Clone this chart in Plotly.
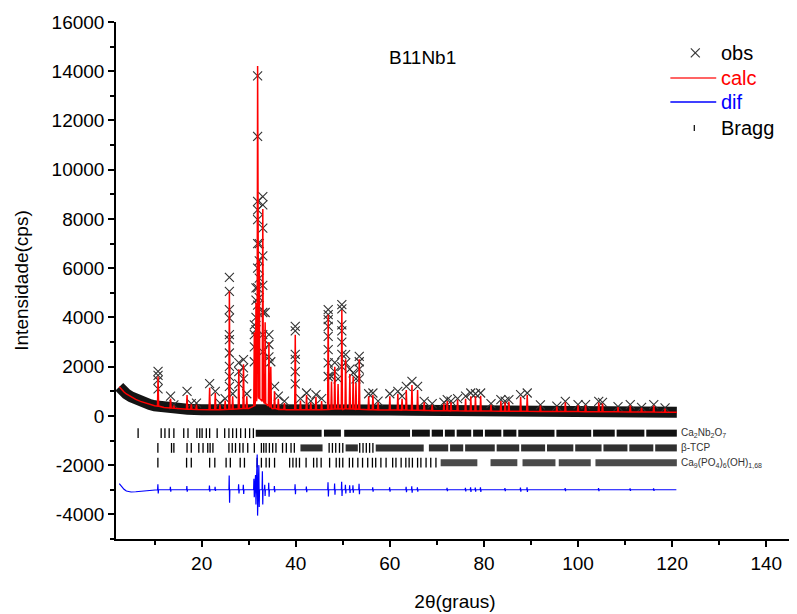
import plotly.graph_objects as go

# ---------------- data ----------------
# smooth background of the calculated profile (2theta, counts)
bg_2theta = [2.5, 3, 3.5, 4, 5, 6, 7, 8, 9, 10, 12, 14, 17, 20, 25, 28, 30, 33, 35, 38, 45, 50, 55, 60, 65, 70, 80, 90, 100, 110, 121]
bg_counts = [1180, 1060, 970, 890, 770, 670, 590, 520, 460, 410, 340, 300, 270, 255, 255, 270, 300, 340, 290, 250, 245, 260, 245, 235, 225, 210, 195, 185, 175, 165, 150]

# reflections of the profile: position, observed top, calculated top, base level
peak_2theta = [10.74, 13.4, 14.1, 16.9, 17.8, 18.9, 21.7, 22.9, 23.9, 25.0, 25.9, 26.6, 27.9, 28.9, 29.6,
               31.2, 31.55, 31.9, 32.25, 33.0, 33.5, 34.3, 34.7, 35.5, 36.3, 37.6, 39.9, 41.0, 42.3, 43.2,
               44.3, 45.5, 46.9, 47.6, 48.3, 49.0, 49.8, 50.6, 51.5, 52.2, 52.8, 53.5, 55.5, 56.4, 57.5,
               60.0, 61.7, 62.6, 63.5, 64.7, 65.9, 67.3, 69.0, 71.5, 72.2, 73.0, 74.4, 76.1, 77.2, 78.2,
               79.3, 81.5, 83.6, 84.5, 85.3, 87.8, 89.2, 92.0, 95.5, 97.3, 100.0, 101.6, 104.4, 105.2, 108.5,
               111.1, 113.5, 116.1, 118.5]
peak_obs = [1810, 800, 450, 1000, 500, 520, 1310, 1000, 520, 700, 5625, 900, 2160, 2285, 900,
            3700, 5200, 13811, 7000, 8910, 4200, 3300, 2200, 1200, 800, 600, 3640, 700, 930, 600,
            860, 700, 4315, 1600, 2160, 1500, 4517, 2490, 1900, 1750, 1500, 2420, 900, 930, 600,
            900, 1000, 800, 1200, 1405, 1200, 590, 500, 550, 660, 600, 700, 800, 930, 900,
            930, 500, 660, 600, 660, 860, 930, 450, 400, 590, 455, 455, 590, 550, 380,
            455, 350, 455, 330]
peak_calc = [1600, 700, 420, 850, 470, 460, 1140, 930, 460, 620, 5060, 800, 1890, 2100, 800,
             3400, 4600, 14217, 6300, 8400, 3800, 3000, 2000, 1000, 700, 520, 3300, 620, 850, 550,
             780, 600, 4110, 1400, 2000, 1300, 4300, 2300, 1700, 1600, 1350, 2300, 800, 850, 550,
             800, 900, 700, 1050, 1250, 1050, 550, 450, 500, 600, 550, 650, 700, 800, 800,
             820, 450, 600, 550, 580, 780, 850, 420, 380, 550, 430, 430, 540, 500, 360,
             420, 330, 420, 300]
peak_base = [400, 320, 310, 275, 270, 260, 255, 255, 255, 260, 270, 270, 290, 300, 300,
             400, 600, 800, 700, 600, 500, 400, 350, 300, 270, 260, 250, 250, 250, 250,
             250, 250, 260, 270, 280, 280, 290, 290, 280, 280, 270, 270, 250, 250, 245,
             240, 240, 235, 235, 230, 230, 225, 215, 210, 210, 205, 205, 200, 200, 200,
             195, 195, 190, 190, 190, 188, 185, 183, 180, 178, 175, 173, 170, 170, 167,
             163, 160, 157, 153]

# extra observed points read along the flanks of the strong peaks
obs_flank_2theta = [10.74, 10.74, 10.74,
                    25.9, 25.9, 25.9, 25.9, 25.9, 25.9, 25.9, 25.9, 25.9,
                    27.9, 27.9, 28.9, 28.9,
                    31.2, 31.2, 31.2,
                    31.55, 31.55, 31.55,
                    31.9, 31.9, 31.9, 31.9, 31.9, 31.9, 31.9, 31.9,
                    32.25, 32.25, 32.25,
                    33.0, 33.0, 33.0, 33.0, 33.0, 33.0, 33.0,
                    34.3, 34.3,
                    39.9, 39.9, 39.9, 39.9, 39.9,
                    46.9, 46.9, 46.9, 46.9, 46.9, 46.9, 46.9,
                    48.3,
                    49.8, 49.8, 49.8, 49.8, 49.8, 49.8,
                    50.6,
                    53.5, 53.5, 53.5]
obs_flank_counts = [1650, 1450, 1100,
                    5057, 4313, 3975, 3299, 3096, 2555, 2010, 1610, 1200,
                    1800, 1300, 1950, 1500,
                    3300, 2800, 2200,
                    4700, 4000, 3500,
                    11350, 8710, 8370, 7970, 7000, 6000, 5200, 4500,
                    6300, 5600, 4800,
                    8570, 7630, 6500, 5300, 4200, 3300, 2600,
                    2900, 2400,
                    3450, 2500, 2300, 1800, 1300,
                    4110, 3910, 3640, 3230, 2690, 2150, 1600,
                    1800,
                    4350, 3700, 3450, 3000, 2500, 2000,
                    2150,
                    2200, 1900, 1500]

# difference curve (obs - calc, offset)
dif_start_2theta = [2.5, 3, 3.5, 4, 5, 6, 7, 8, 9, 10]
dif_start_counts = [-2750, -2880, -2980, -3050, -3090, -3080, -3060, -3040, -3020, -3010]
dif_level = -3000
dif_spike_2theta = [10.74, 13.4, 16.9, 21.7, 22.9, 25.9, 27.9, 28.9, 31.15, 31.5, 31.85, 32.2, 32.95,
                    33.45, 34.3, 35.5, 39.9, 42.3, 46.9, 48.3, 49.8, 50.6, 51.5, 52.2, 53.5, 56.4, 60.0,
                    63.5, 64.7, 65.9, 72.2, 76.1, 77.2, 78.2, 79.3, 84.5, 87.8, 89.2, 97.3, 104.4, 111.1, 116.1]
dif_spike_up = [-2780, -2880, -2850, -2830, -2880, -2420, -2780, -2800, -2550, -2400, -1570, -2000, -2250,
                -2800, -2720, -2850, -2780, -2870, -2700, -2750, -2680, -2800, -2820, -2820, -2760, -2900, -2900,
                -2880, -2860, -2900, -2920, -2920, -2900, -2910, -2900, -2930, -2910, -2900, -2930, -2930, -2940, -2940]
dif_spike_down = [-3150, -3080, -3080, -3080, -3050, -3530, -3150, -3170, -3300, -3600, -4050, -3700, -3600,
                  -3250, -3280, -3100, -3180, -3100, -3270, -3200, -3250, -3150, -3130, -3120, -3180, -3080, -3080,
                  -3100, -3120, -3080, -3060, -3070, -3090, -3080, -3090, -3060, -3080, -3090, -3060, -3060, -3050, -3050]
dif_end_2theta = 120.9

# Bragg reflection markers: isolated ticks and dense runs, per phase
bragg_rows = [-700, -1300, -1900]
bragg1_2theta = [6.5, 11.4, 12.2, 13.1, 14.1, 16.2, 17.1, 19.0, 19.6, 20.1, 21.0, 21.7, 23.3, 24.9, 25.8,
                 26.6, 27.4, 28.3, 29.3, 30.2, 31.0]
bragg1_run_from = [31.5, 46.0, 50.3, 64.7, 68.9, 71.7, 74.2, 77.7, 80.2, 84.1, 87.3, 95.4, 103.2, 108.2, 114.5]
bragg1_run_to = [45.5, 49.6, 64.3, 68.5, 71.3, 73.8, 77.3, 79.8, 83.7, 86.9, 95.0, 102.8, 107.8, 114.1, 121.0]
bragg2_2theta = [10.7, 13.6, 14.1, 16.9, 17.8, 19.4, 20.3, 21.3, 21.8, 22.4, 25.8, 26.5, 27.2, 28.1, 28.8,
                 29.8, 31.2, 32.7, 33.2, 33.7, 34.4, 35.1, 35.8, 37.2, 38.0, 39.0, 39.7, 47.1, 47.8, 48.5,
                 49.3, 50.0, 53.6, 54.3, 55.0, 55.7, 56.4]
bragg2_run_from = [41.0, 50.6, 57.0, 68.3, 72.8, 76.0, 82.7, 87.9, 93.4, 99.4, 105.4, 110.9, 116.4]
bragg2_run_to = [45.7, 53.2, 67.2, 72.4, 75.6, 82.3, 87.5, 93.0, 99.0, 105.0, 110.5, 116.0, 121.0]
bragg3_2theta = [10.7, 16.8, 17.8, 21.7, 22.8, 25.2, 26.1, 28.2, 29.1, 31.8, 32.7, 33.7, 34.4, 35.5, 38.7,
                 39.4, 40.1, 40.8, 42.2, 43.8, 44.5, 45.4, 47.2, 48.6, 49.3, 50.0, 51.4, 52.1, 53.2, 54.2,
                 55.3, 56.3, 57.0, 58.1, 59.2, 60.6, 61.3, 62.4, 63.4, 64.1, 64.8, 65.9, 66.6, 67.7, 68.7, 69.8]
bragg3_run_from = [70.8, 81.4, 88.2, 95.9, 103.7]
bragg3_run_to = [78.6, 87.1, 95.2, 102.7, 121.0]

# axis ticks and texts
y_tick_values = [-4000, -2000, 0, 2000, 4000, 6000, 8000, 10000, 12000, 14000, 16000]
y_tick_labels = ["-4000", "-2000", "0", "2000", "4000", "6000", "8000", "10000", "12000", "14000", "16000"]
x_tick_values = [20, 40, 60, 80, 100, 120, 140]
x_tick_labels = ["20", "40", "60", "80", "100", "120", "140"]
phase_labels = ["Ca<sub>2</sub>Nb<sub>2</sub>O<sub>7</sub>", "β-TCP",
                "Ca<sub>9</sub>(PO<sub>4</sub>)<sub>6</sub>(OH)<sub>1,68</sub>"]
sample_name = "B11Nb1"
legend_names = ["obs", "calc", "dif", "Bragg"]

# ---------------- layout geometry ----------------
FONT = "Liberation Sans, Arial, Helvetica, sans-serif"
HALF = 0.12  # half width of a reflection in the drawn profile
# the page has an 8px body margin; plot area spans page px x 116..796, y 22..539.5
PL, PR, PT, PB = 116.0, 796.0, 22.0, 539.5


def px(xp):
    return (xp - PL) / (PR - PL)


def py(yp):
    return (PB - yp) / (PB - PT)


# calc profile vertices: background points (away from peaks) + triangular peaks
verts = []
for x, y in zip(bg_2theta, bg_counts):
    if all(abs(x - p) > HALF * 1.5 for p in peak_2theta):
        verts.append((x, y))
for p, t, b in zip(peak_2theta, peak_calc, peak_base):
    verts += [(p - HALF, b), (p, t), (p + HALF, b)]
verts.sort(key=lambda v: v[0])
calc_x = [v[0] for v in verts]
calc_y = [v[1] for v in verts]

# difference curve vertices
dx = list(dif_start_2theta)
dy = list(dif_start_counts)
for p, u, d in zip(dif_spike_2theta, dif_spike_up, dif_spike_down):
    dx += [p - 0.1, p - 0.04, p + 0.04, p + 0.1]
    dy += [dif_level, u, d, dif_level]
dx.append(dif_end_2theta)
dy.append(dif_level)

fig = go.Figure()

# dense cloud of observed points along the background (drawn as a thick band)
fig.add_trace(go.Scatter(x=bg_2theta, y=bg_counts, mode="lines",
                         line=dict(color="#141414", width=11), showlegend=False, hoverinfo="skip"))

# Bragg markers
bragg_sets = [(bragg1_2theta, bragg1_run_from, bragg1_run_to, "#111111"),
              (bragg2_2theta, bragg2_run_from, bragg2_run_to, "#303030"),
              (bragg3_2theta, bragg3_run_from, bragg3_run_to, "#4a4a4a")]
for i, (ticks, r0, r1, col) in enumerate(bragg_sets):
    lvl = bragg_rows[i]
    rx, ry = [], []
    for a, b in zip(r0, r1):
        rx += [a, b, None]
        ry += [lvl, lvl, None]
    fig.add_trace(go.Scatter(x=rx, y=ry, mode="lines", line=dict(color=col, width=7),
                             showlegend=False, hoverinfo="skip"))
    fig.add_trace(go.Scatter(x=ticks, y=[lvl] * len(ticks), mode="markers",
                             marker=dict(symbol="line-ns", size=7, line=dict(color="black", width=1.3)),
                             name="Bragg", showlegend=False))

# difference
fig.add_trace(go.Scatter(x=dx, y=dy, mode="lines", line=dict(color="#0000ff", width=1.2),
                         name="dif", showlegend=False))

# observed
fig.add_trace(go.Scatter(x=peak_2theta + obs_flank_2theta, y=peak_obs + obs_flank_counts, mode="markers",
                         marker=dict(symbol="x-thin", size=9, line=dict(color="#333333", width=1.1)),
                         name="obs", showlegend=False))

# calculated
fig.add_trace(go.Scatter(x=calc_x, y=calc_y, mode="lines", line=dict(color="#ff0000", width=1.5),
                         name="calc", showlegend=False))

for lbl, lvl in zip(phase_labels, bragg_rows):
    fig.add_annotation(x=121.4, y=lvl, text=lbl, showarrow=False, xanchor="left", yanchor="middle",
                       font=dict(family=FONT, size=10, color="#333333"))

fig.add_annotation(x=px(423), y=py(45), xref="paper", yref="paper", text=sample_name, showarrow=False,
                   font=dict(family=FONT, size=19, color="black"))

# legend (drawn by hand to match the original key layout)
legend_y = [53, 78, 102, 128]
legend_colors = ["black", "#ff0000", "#0000ff", "black"]
for name, yy, col in zip(legend_names, legend_y, legend_colors):
    fig.add_annotation(x=px(721), y=py(yy), xref="paper", yref="paper", text=name, showarrow=False,
                       xanchor="left", yanchor="middle", font=dict(family=FONT, size=20, color=col))
shapes = [
    dict(type="line", xref="paper", yref="paper", x0=px(692.5), x1=px(701.5), y0=py(48.5), y1=py(57.5),
         line=dict(color="#333333", width=1.1)),
    dict(type="line", xref="paper", yref="paper", x0=px(692.5), x1=px(701.5), y0=py(57.5), y1=py(48.5),
         line=dict(color="#333333", width=1.1)),
    dict(type="line", xref="paper", yref="paper", x0=px(672), x1=px(718), y0=py(78), y1=py(78),
         line=dict(color="#ff3030", width=1.5)),
    dict(type="line", xref="paper", yref="paper", x0=px(672), x1=px(718), y0=py(102), y1=py(102),
         line=dict(color="#0000ff", width=1.5)),
    dict(type="line", xref="paper", yref="paper", x0=px(696), x1=px(696), y0=py(125), y1=py(131),
         line=dict(color="black", width=1.2)),
]

axis_common = dict(showline=True, linecolor="black", linewidth=1.5, ticks="outside", ticklen=6,
                   tickwidth=1.5, tickcolor="black", showgrid=False, zeroline=False,
                   tickfont=dict(family=FONT, size=19, color="black"))

fig.update_layout(
    width=789, height=606,
    margin=dict(l=108, r=1, t=14, b=74.5),
    paper_bgcolor="white", plot_bgcolor="white",
    font=dict(family=FONT, size=19, color="black"),
    xaxis=dict(range=[1.8, 145.9], tickmode="array", tickvals=x_tick_values, ticktext=x_tick_labels,
               minor=dict(tickmode="linear", tick0=0, dtick=10, ticks="outside", ticklen=4,
                          tickwidth=1.5, tickcolor="black"),
               title=dict(text="2θ(graus)", font=dict(family=FONT, size=19), standoff=22),
               **axis_common),
    yaxis=dict(range=[-5000, 16000], tickmode="array", tickvals=y_tick_values, ticktext=y_tick_labels,
               mirror=True,
               minor=dict(tickmode="linear", tick0=0, dtick=1000, ticks="outside", ticklen=4,
                          tickwidth=1.5, tickcolor="black"),
               title=dict(text="Intensidade(cps)", font=dict(family=FONT, size=19), standoff=18),
               **axis_common),
    shapes=shapes,
    showlegend=False,
)

fig.write_html("out.html")
